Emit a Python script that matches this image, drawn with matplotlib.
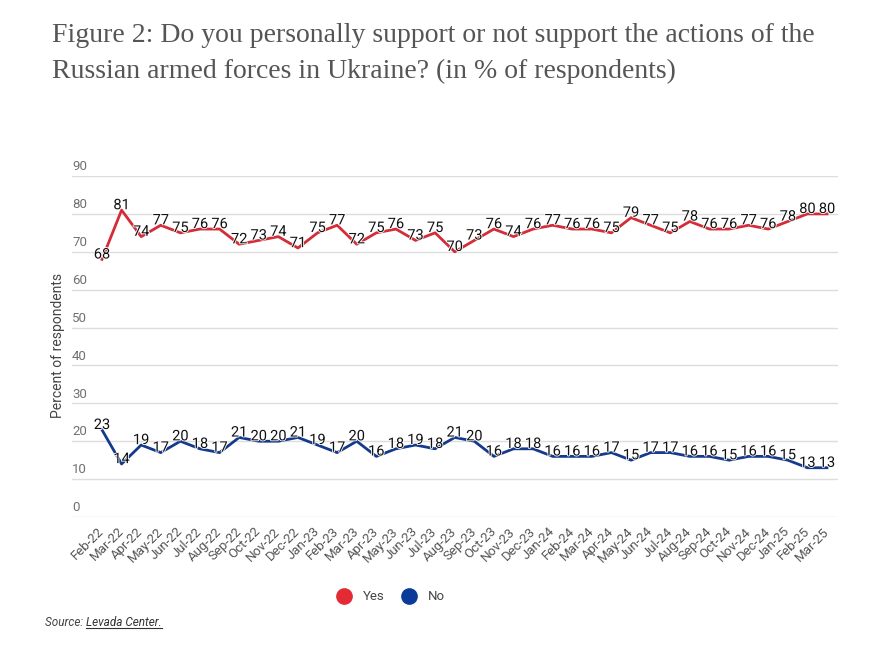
import matplotlib
matplotlib.use("Agg")
import matplotlib.pyplot as plt
import matplotlib.patheffects as pe
from matplotlib.lines import Line2D

plt.rcParams['font.family'] = ['Roboto', 'DejaVu Sans']

# data
months = ["Feb-22", "Mar-22", "Apr-22", "May-22", "Jun-22", "Jul-22", "Aug-22", "Sep-22",
          "Oct-22", "Nov-22", "Dec-22", "Jan-23", "Feb-23", "Mar-23", "Apr-23", "May-23",
          "Jun-23", "Jul-23", "Aug-23", "Sep-23", "Oct-23", "Nov-23", "Dec-23", "Jan-24",
          "Feb-24", "Mar-24", "Apr-24", "May-24", "Jun-24", "Jul-24", "Aug-24", "Sep-24",
          "Oct-24", "Nov-24", "Dec-24", "Jan-25", "Feb-25", "Mar-25"]
yes = [68, 81, 74, 77, 75, 76, 76, 72, 73, 74, 71, 75, 77, 72, 75, 76, 73, 75, 70, 73,
       76, 74, 76, 77, 76, 76, 75, 79, 77, 75, 78, 76, 76, 77, 76, 78, 80, 80]
no = [23, 14, 19, 17, 20, 18, 17, 21, 20, 20, 21, 19, 17, 20, 16, 18, 19, 18, 21, 20,
      16, 18, 18, 16, 16, 16, 17, 15, 17, 17, 16, 16, 15, 16, 16, 15, 13, 13]
yticks = [0, 10, 20, 30, 40, 50, 60, 70, 80, 90]

red = '#d42c38'
blue = '#143a8c'

W, H = 891, 658
fig = plt.figure(figsize=(W / 100, H / 100), dpi=100)
fig.patch.set_facecolor('white')

ax = fig.add_axes([72 / W, 141 / H, 766 / W, 341 / H])
x = list(range(len(months)))
ax.set_xlim(-1.53, len(months) - 1 + 0.56)
ax.set_ylim(0, 90)

# grid + y labels sitting above the lines
for v in yticks:
    ax.axhline(v, color='#dddddd', lw=1, zorder=0)
    ax.annotate(str(v), xy=(0, v), xycoords=('axes fraction', 'data'),
                xytext=(0, 2), textcoords='offset points',
                ha='left', va='bottom', fontsize=9.5, color='#707070')
ax.set_yticks([])
for s in ax.spines.values():
    s.set_visible(False)

ax.plot(x, yes, color=red, lw=2, zorder=2)
ax.plot(x, no, color=blue, lw=2, zorder=2)

halo = [pe.withStroke(linewidth=1.2, foreground='white')]
for series in (yes, no):
    for i, v in enumerate(series):
        ax.annotate(str(v), xy=(i, v), xytext=(0, 3.5), textcoords='offset points',
                    ha='center', va='center', fontsize=10.5, color='#111111',
                    path_effects=halo, zorder=3)

ax.set_xticks(x)
ax.set_xticklabels(months, rotation=45, ha='right', va='center',
                   rotation_mode='anchor', fontsize=9.5, color='#555555')
ax.tick_params(axis='x', length=0, pad=9)

fig.text(58 / W, 1 - 345 / H, "Percent of respondents", rotation=90,
         ha='center', va='center', fontsize=10, color='#444444')

# title
fig.text(52 / W, 1 - 23 / H,
         "Figure 2: Do you personally support or not support the actions of the\n"
         "Russian armed forces in Ukraine? (in % of respondents)",
         ha='left', va='top', fontsize=20, color='#555555',
         family='Liberation Serif', linespacing=1.55)

# legend
handles = [Line2D([], [], ls='none', marker='o', markersize=11, color='#e32a35'),
           Line2D([], [], ls='none', marker='o', markersize=11, color='#0c3a98')]
fig.legend(handles, ['Yes', 'No'], loc='center', bbox_to_anchor=(388 / W, 1 - 597 / H),
           ncol=2, frameon=False, fontsize=9.5, handletextpad=0.4, columnspacing=0.9,
           labelcolor='#444444')

# source with underlined link
t1 = fig.text(45 / W, 1 - 623 / H, "Source: ", ha='left', va='center',
              fontsize=8.5, style='italic', color='#444444')
fig.canvas.draw()
r = fig.canvas.get_renderer()
bb = t1.get_window_extent(r)
t2 = fig.text(bb.x1 / W, 1 - 623 / H, "Levada Center.", ha='left', va='center',
              fontsize=8.5, style='italic', color='#333333')
bb2 = t2.get_window_extent(r)
uy = (bb2.y0 + 2) / H
fig.add_artist(Line2D([bb2.x0 / W, bb2.x1 / W], [uy, uy], color='#333333', lw=0.8))

fig.savefig('out.png', dpi=100, facecolor='white')
